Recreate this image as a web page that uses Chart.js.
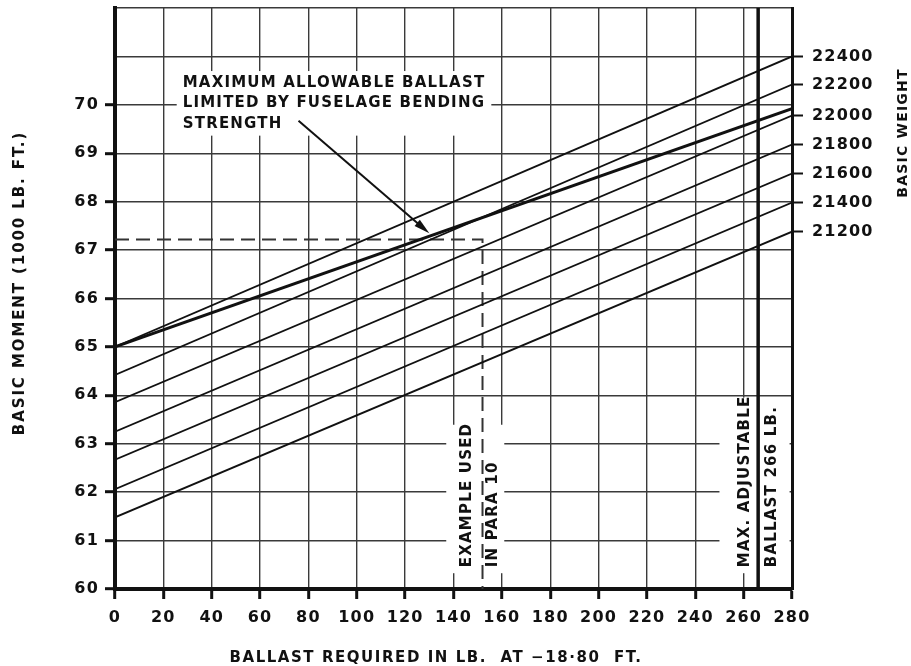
<!DOCTYPE html>
<html>
<head>
<meta charset="utf-8">
<script src="https://cdn.jsdelivr.net/npm/chart.js@4.4.1/dist/chart.umd.min.js"></script>
<style>
  html, body { margin: 0; padding: 0; background: #fff; }
  #wrap { width: 911px; height: 666px; position: relative; }
</style>
</head>
<body>
<div id="wrap"><canvas id="ballastChart"></canvas></div>
<script>
// values
var ballast = [0, 280];
var weights = [22400, 22200, 22000, 21800, 21600, 21400, 21200];
var momentAt0 = [65.0, 64.42, 63.86, 63.25, 62.67, 62.06, 61.48];
var momentAt280 = [71.0, 70.42, 69.78, 69.18, 68.58, 67.98, 67.38];
var limitMoment = [65.0, 69.92];
var exampleX = [0, 152, 152];
var exampleY = [67.22, 67.22, 60];
var maxBallast = 266;
var momentTicks = [60, 61, 62, 63, 64, 65, 66, 67, 68, 69, 70];

var FONT = '"DejaVu Sans", sans-serif';
var INK = "#111";

function pts(xs, ys) {
    var out = [];
    for (var i = 0; i < xs.length; i++) {
        out.push({ x: xs[i], y: ys[i] });
    }
    return out;
}

var datasets = [];
for (var i = 0; i < weights.length; i++) {
    datasets.push({
        label: String(weights[i]),
        data: pts(ballast, [momentAt0[i], momentAt280[i]]),
        borderColor: INK,
        borderWidth: 1.8
    });
}
datasets.push({
    label: "limit",
    data: pts(ballast, limitMoment),
    borderColor: INK,
    borderWidth: 3
});
datasets.push({
    label: "example",
    data: pts(exampleX, exampleY),
    borderColor: "#333",
    borderWidth: 2,
    borderDash: [14, 7]
});
datasets.push({
    label: "max ballast",
    data: pts([maxBallast, maxBallast], [60, 72]),
    borderColor: INK,
    borderWidth: 3.5
});

// vertical notes, placed in data units (x centre, y where the text starts)
var notes = [
    { text: "EXAMPLE USED", x: 145.6, y: 60.45 },
    { text: "IN PARA 10", x: 156.3, y: 60.45 },
    { text: "MAX. ADJUSTABLE", x: 260.5, y: 60.45 },
    { text: "BALLAST 266 LB.", x: 271.7, y: 60.45 }
];
// white patches behind each pair of notes (grid is broken there in the original)
var noteGaps = [
    { from: 0, to: 1, x0: 137, x1: 161 },
    { from: 2, to: 3, x0: 250, x1: 279 }
];
var callout = ["MAXIMUM ALLOWABLE BALLAST", "LIMITED BY FUSELAGE BENDING", "STRENGTH"];

function noteFont(ctx) {
    ctx.font = "bold 15px " + FONT;
    ctx.letterSpacing = "1.2px";
}

function noPad(s) {
    s.paddingTop = 0;
    s.paddingBottom = 0;
    s.paddingLeft = 0;
    s.paddingRight = 0;
}

var annotations = {
    id: "annotations",
    beforeDraw: function (chart) {
        chart.ctx.letterSpacing = "1.2px";
    },
    beforeDatasetsDraw: function (chart) {
        var ctx = chart.ctx, xs = chart.scales.x, ys = chart.scales.y;
        ctx.save();
        noteFont(ctx);
        ctx.fillStyle = "#fff";
        noteGaps.forEach(function (g) {
            var w = 0;
            for (var k = g.from; k <= g.to; k++) {
                w = Math.max(w, ctx.measureText(notes[k].text).width);
            }
            var bottom = ys.getPixelForValue(notes[g.from].y) + 6;
            var l = xs.getPixelForValue(g.x0), r = xs.getPixelForValue(g.x1);
            ctx.fillRect(l, bottom - w - 4, r - l, w + 4);
        });
        var left = xs.getPixelForValue(28), top = ys.getPixelForValue(70.45);
        var maxW = 0;
        callout.forEach(function (t) { maxW = Math.max(maxW, ctx.measureText(t).width); });
        ctx.fillRect(left - 6, top - 12, maxW + 12, 20.3 * 2 + 24);
        ctx.restore();
    },
    afterDatasetsDraw: function (chart) {
        var ctx = chart.ctx, xs = chart.scales.x, ys = chart.scales.y;
        ctx.save();
        noteFont(ctx);
        ctx.fillStyle = INK;
        ctx.textBaseline = "middle";
        notes.forEach(function (n) {
            ctx.save();
            ctx.translate(xs.getPixelForValue(n.x), ys.getPixelForValue(n.y));
            ctx.rotate(-Math.PI / 2);
            ctx.textAlign = "left";
            ctx.fillText(n.text, 0, 0);
            ctx.restore();
        });
        var left = xs.getPixelForValue(28), top = ys.getPixelForValue(70.45);
        ctx.textAlign = "left";
        callout.forEach(function (t, k) {
            ctx.fillText(t, left, top + k * 20.3);
        });
        // arrow from the callout to the limit line
        var tipX = 130;
        var tipY = limitMoment[0] + (limitMoment[1] - limitMoment[0]) * tipX / 280;
        var x0 = left + ctx.measureText(callout[2]).width + 16, y0 = top + 2 * 20.3 - 3;
        var x1 = xs.getPixelForValue(tipX), y1 = ys.getPixelForValue(tipY) - 3;
        var ang = Math.atan2(y1 - y0, x1 - x0);
        ctx.strokeStyle = INK;
        ctx.lineWidth = 2;
        ctx.beginPath();
        ctx.moveTo(x0, y0);
        ctx.lineTo(x1 - 12 * Math.cos(ang), y1 - 12 * Math.sin(ang));
        ctx.stroke();
        ctx.beginPath();
        ctx.moveTo(x1, y1);
        ctx.lineTo(x1 - 16 * Math.cos(ang) + 4 * Math.sin(ang), y1 - 16 * Math.sin(ang) - 4 * Math.cos(ang));
        ctx.lineTo(x1 - 16 * Math.cos(ang) - 4 * Math.sin(ang), y1 - 16 * Math.sin(ang) + 4 * Math.cos(ang));
        ctx.closePath();
        ctx.fill();
        ctx.restore();
    },
    afterDraw: function (chart) {
        var ctx = chart.ctx, area = chart.chartArea;
        ctx.save();
        ctx.fillStyle = INK;
        ctx.textAlign = "center";
        ctx.textBaseline = "middle";
        ctx.font = "bold 15px " + FONT;
        ctx.letterSpacing = "1.55px";
        ctx.fillText("BALLAST REQUIRED IN LB.  AT \u221218\u00b780  FT.", area.left + 321, area.bottom + 69);
        ctx.letterSpacing = "1.9px";
        ctx.save();
        ctx.translate(area.left - 95, area.top + 275);
        ctx.rotate(-Math.PI / 2);
        ctx.fillText("BASIC MOMENT (1000 LB. FT.)", 0, 0);
        ctx.restore();
        ctx.font = "bold 14px " + FONT;
        ctx.letterSpacing = "1.2px";
        ctx.save();
        ctx.translate(area.right + 111, area.top + 125);
        ctx.rotate(-Math.PI / 2);
        ctx.fillText("BASIC WEIGHT", 0, 0);
        ctx.restore();
        ctx.restore();
    }
};

new Chart(document.getElementById("ballastChart").getContext("2d"), {
    type: "line",
    data: { datasets: datasets },
    plugins: [annotations],
    options: {
        responsive: true,
        maintainAspectRatio: false,
        animation: false,
        layout: { padding: { top: 8, left: 0, right: 0, bottom: 0 } },
        elements: { point: { radius: 0 }, line: { tension: 0 } },
        plugins: { legend: { display: false }, tooltip: { enabled: false } },
        scales: {
            x: {
                type: "linear",
                min: 0,
                max: 280,
                ticks: { stepSize: 20, color: INK, padding: 9, font: { family: FONT, size: 16, weight: "bold" } },
                grid: { color: "#3a3a3a", lineWidth: 1.4, tickColor: INK, tickLength: 10, tickWidth: 3 },
                border: { color: INK, width: 4 },
                afterFit: function (s) { s.height = 77; noPad(s); }
            },
            y: {
                type: "linear",
                min: 60,
                max: 72,
                ticks: {
                    stepSize: 1,
                    color: INK,
                    padding: 6,
                    font: { family: FONT, size: 16, weight: "bold" },
                    callback: function (v) { return momentTicks.indexOf(v) >= 0 ? v : ""; }
                },
                grid: {
                    color: "#3a3a3a",
                    lineWidth: 1.4,
                    tickLength: 10,
                    tickWidth: 3,
                    tickColor: function (c) { return c.tick && momentTicks.indexOf(c.tick.value) >= 0 ? INK : "rgba(0,0,0,0)"; }
                },
                border: { color: INK, width: 4 },
                afterFit: function (s) { s.width = 115; noPad(s); }
            },
            y2: {
                type: "linear",
                position: "right",
                min: 60,
                max: 72,
                afterBuildTicks: function (s) {
                    s.ticks = momentAt280.map(function (m) { return { value: m }; });
                },
                ticks: {
                    color: INK,
                    padding: 9,
                    font: { family: FONT, size: 16, weight: "bold" },
                    callback: function (v, idx) { return String(weights[idx]); }
                },
                grid: { drawOnChartArea: false, tickColor: INK, tickLength: 11, tickWidth: 2 },
                border: { color: INK, width: 3 },
                afterFit: function (s) { s.width = 119; noPad(s); }
            }
        }
    }
});
</script>
</body>
</html>
